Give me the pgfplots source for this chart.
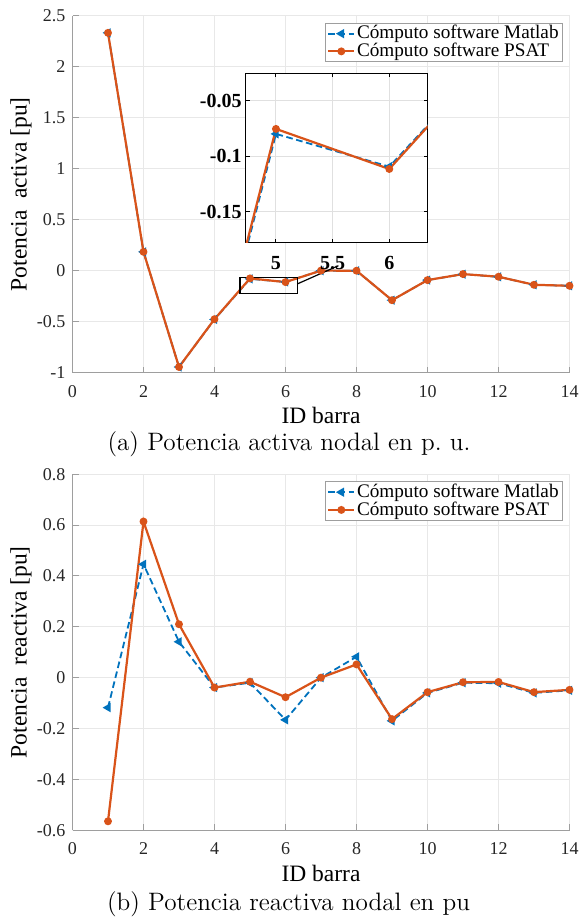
\documentclass[border=0pt]{standalone}
\usepackage{fontspec}
\newfontfamily\tnr{Liberation Serif}
\usepackage{pgfplots}
\pgfplotsset{compat=1.18}
\usepackage{pgfplotstable}

\definecolor{mblue}{rgb}{0,0.447,0.741}
\definecolor{morange}{rgb}{0.85,0.325,0.098}
\definecolor{mgrid}{rgb}{0.91,0.91,0.91}
\definecolor{igrid}{rgb}{0.88,0.88,0.88}
\definecolor{maxis}{rgb}{0.62,0.62,0.62}
\definecolor{mtext}{rgb}{0.15,0.15,0.15}

% Potencia activa nodal (p.u.)
\pgfplotstableread{
id  matlab   psat
1   2.332    2.332
2   0.185    0.185
3  -0.944   -0.944
4  -0.478   -0.475
5  -0.080   -0.0755
6  -0.1095  -0.1116
7   0.000    0.001
8   0.000    0.000
9  -0.289   -0.289
10 -0.092   -0.092
11 -0.034   -0.033
12 -0.060   -0.059
13 -0.138   -0.138
14 -0.148   -0.148
}\activa

% Potencia reactiva nodal (p.u.)
\pgfplotstableread{
id  matlab   psat
1  -0.118   -0.565
2   0.446    0.614
3   0.141    0.210
4  -0.039   -0.039
5  -0.020   -0.016
6  -0.166   -0.077
7   0.000    0.000
8   0.082    0.052
9  -0.170   -0.163
10 -0.060   -0.057
11 -0.020   -0.018
12 -0.022   -0.017
13 -0.060   -0.057
14 -0.050   -0.048
}\reactiva

\pgfplotsset{
  mlab/.style={mblue, line width=0.9pt, dash pattern=on 3.3pt off 1.8pt,
    mark=triangle*, mark size=1.8pt,
    mark options={solid, rotate=90, fill=mblue, draw=mblue}},
  psat/.style={morange, solid, line width=1.1pt,
    mark=*, mark size=1.4pt, mark options={fill=morange, draw=morange}},
  base/.style={
    scale only axis, enlargelimits=false,
    axis lines=left, axis line style={-, maxis, line width=0.5pt},
    tick align=inside, major tick length=3pt,
    tick style={maxis, line width=0.5pt},
    grid=major, major grid style={mgrid, line width=0.5pt},
    tick label style={font=\tnr\fontsize{9}{9}\selectfont, text=mtext},
    xticklabel style={yshift=-2.8pt},
    label style={font=\tnr\fontsize{11.75}{12}\selectfont, text=black},
    xlabel style={at={(axis description cs:0.5,-0.119)}, anchor=center},
    ylabel style={at={(axis description cs:-0.1036,0.5)}, anchor=center, rotate=0},
    xmin=0, xmax=14, xtick={0,2,...,14},
    legend image code/.code={\draw[mark repeat=2, mark phase=2, ##1]
      plot coordinates {(0pt,0pt) (6.5pt,0pt) (13pt,0pt)};},
    legend style={at={(0.9863,0.9804)}, anchor=north east,
      draw=maxis, fill=white, line width=0.5pt,
      font=\tnr\fontsize{9.6}{9.6}\selectfont,
      inner xsep=1pt, inner ysep=0.8pt, row sep=0pt,
      nodes={inner ysep=0.3pt, inner xsep=0.8pt},
      cells={anchor=west}},
  },
}

\begin{document}
\begin{tikzpicture}
\path[use as bounding box] (0pt,0pt) rectangle (291pt,-461pt);

% (a) active power
\begin{axis}[base,
  at={(36.25pt,-186.35pt)}, anchor=south west,
  width=248.5pt, height=178.5pt,
  ymin=-1, ymax=2.5,
  ytick={-1,-0.5,0,0.5,1,1.5,2,2.5},
  yticklabels={-1,-0.5,0,0.5,1,1.5,2,2.5},
  xticklabels={0,2,4,6,8,10,12,14},
  xlabel={ID barra},
  ylabel={Potencia~ activa [pu]},
]
\addplot[mlab] table[x=id, y=matlab] {\activa};
\addlegendentry{Cómputo software Matlab}
\addplot[psat] table[x=id, y=psat] {\activa};
\addlegendentry{Cómputo software PSAT}
% zoomed region and its leader line
\draw[black, line width=0.6pt] (axis cs:4.72,-0.065) rectangle (axis cs:6.33,-0.222);
\draw[black, line width=0.6pt] (axis cs:6.33,-0.13) -- (axis cs:7.49,0.049);
\end{axis}

% inset: detail of buses 5-6
\begin{axis}[
  at={(122.85pt,-121.35pt)}, anchor=south west,
  scale only axis, width=91pt, height=84.7pt,
  xmin=4.733, xmax=6.339, ymin=-0.178, ymax=-0.0254,
  axis background/.style={fill=white},
  axis line style={black, line width=0.7pt},
  tick align=inside, major tick length=2pt,
  tick style={black, line width=0.5pt},
  grid=major, major grid style={igrid, line width=0.5pt},
  xtick={5,5.5,6}, xticklabels={5,5.5,6},
  ytick={-0.15,-0.1,-0.05}, yticklabels={-0.15,-0.1,-0.05},
  tick label style={font=\tnr\bfseries\fontsize{10}{10}\selectfont, text=black},
  xticklabel style={yshift=-3.3pt},
  yticklabel style={xshift=1.5pt},
]
\addplot[mlab] table[x=id, y=matlab] {\activa};
\addplot[psat] table[x=id, y=psat] {\activa};
\end{axis}

% (b) reactive power
\begin{axis}[base,
  at={(36.25pt,-415.1pt)}, anchor=south west,
  width=248.5pt, height=178pt,
  ymin=-0.6, ymax=0.8,
  ytick={-0.6,-0.4,-0.2,0,0.2,0.4,0.6,0.8},
  yticklabels={-0.6,-0.4,-0.2,0,0.2,0.4,0.6,0.8},
  xticklabels={0,2,4,6,8,10,12,14},
  xlabel={ID barra},
  xlabel style={at={(axis description cs:0.5,-0.122)}},
  ylabel={Potencia~ reactiva [pu]},
  legend style={at={(0.9863,0.9803)}},
]
\addplot[mlab] table[x=id, y=matlab] {\reactiva};
\addlegendentry{Cómputo software Matlab}
\addplot[psat] table[x=id, y=psat] {\reactiva};
\addlegendentry{Cómputo software PSAT}
\end{axis}

\node[font=\fontsize{12.6}{14}\selectfont, inner sep=0pt] at (144.5pt,-222pt)
  {(a) Potencia activa nodal en p.\ u.};
\node[font=\fontsize{12.6}{14}\selectfont, inner sep=0pt] at (144.3pt,-452.3pt)
  {(b) Potencia reactiva nodal en pu};
\end{tikzpicture}
\end{document}
